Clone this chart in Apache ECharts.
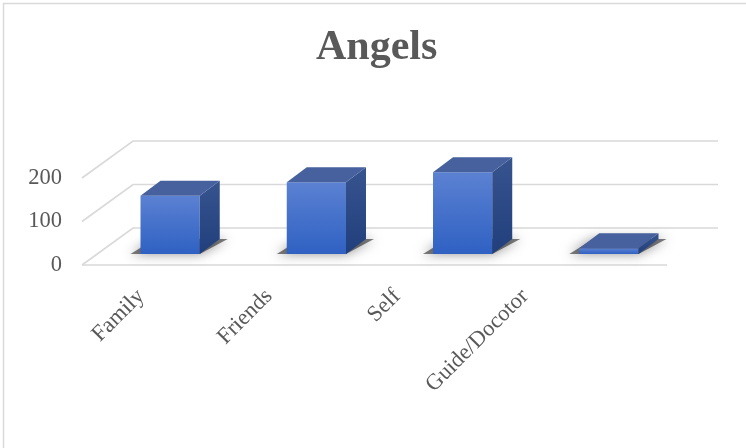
<!DOCTYPE html>
<html>
<head>
<meta charset="utf-8">
<script src="https://cdn.jsdelivr.net/npm/echarts@6/dist/echarts.min.js"></script>
<style>
  html, body { margin: 0; padding: 0; background: #fff; }
  #chart { width: 746px; height: 448px; }
</style>
</head>
<body>
<div id="chart"></div>
<script>
// Chart content
const titleText = 'Angels';
const categories = ['Family', 'Friends', 'Self', 'Guide/Docotor'];
const counts = [134, 165, 188, 13];
const yTicks = [0, 100, 200];

const SERIF = '"Liberation Serif", "Times New Roman", serif';
const GRID_COLOR = '#d9d9d9';
const TEXT_COLOR = '#595959';

// Oblique projection offsets (pixels)
const WALL_DX = 51, WALL_DY = -37;   // floor depth / side wall
const FACE_DX = 15, FACE_DY = -11;   // bar front face set back into the floor
const BAR_DX = 20, BAR_DY = -15;     // bar depth

// Side wall + back wall gridlines and the floor's front edge
function renderWalls(params, api) {
  const cs = params.coordSys;
  const left = cs.x, right = cs.x + cs.width;
  const children = [];
  yTicks.forEach(function (v, k) {
    const y = api.coord([0, v])[1];
    children.push({
      type: 'polyline',
      shape: { points: [[left, y], [left + WALL_DX, y + WALL_DY], [right + WALL_DX, y + WALL_DY]] },
      style: { stroke: GRID_COLOR, lineWidth: 1.6, fill: null }
    });
    if (k === 0) {
      children.push({
        type: 'line',
        shape: { x1: left, y1: y, x2: right, y2: y },
        style: { stroke: GRID_COLOR, lineWidth: 1.6 }
      });
    }
  });
  return { type: 'group', children: children };
}

// One 3D column: floor shadow, front face, top face, side face
function renderColumn(params, api) {
  const i = api.value(0), v = api.value(1);
  const base = api.coord([i, 0]);
  const top = api.coord([i, v]);
  const bw = api.size([1, 0])[0] * 0.405;
  const x0 = base[0] - bw / 2 + FACE_DX, x1 = x0 + bw;
  const yb = base[1] + FACE_DY, yt = top[1] + FACE_DY;

  const shadow = {
    type: 'polygon',
    shape: { points: [
      [x0 - 10, yb], [x1, yb],
      [x1 + BAR_DX + 8, yb + BAR_DY], [x0 + BAR_DX - 6, yb + BAR_DY]
    ] },
    style: { fill: 'rgba(0,0,0,0.5)', shadowBlur: 12, shadowColor: 'rgba(0,0,0,0.85)' }
  };
  const front = {
    type: 'rect',
    shape: { x: x0, y: yt, width: bw, height: yb - yt },
    style: { fill: { type: 'linear', x: 0, y: 0, x2: 0, y2: 1, colorStops: [
      { offset: 0, color: '#5b81d2' }, { offset: 1, color: '#2f61c3' }] } }
  };
  const topFace = {
    type: 'polygon',
    shape: { points: [[x0, yt], [x1, yt], [x1 + BAR_DX, yt + BAR_DY], [x0 + BAR_DX, yt + BAR_DY]] },
    style: { fill: '#46619d' }
  };
  const side = {
    type: 'polygon',
    shape: { points: [[x1, yt], [x1 + BAR_DX, yt + BAR_DY], [x1 + BAR_DX, yb + BAR_DY], [x1, yb]] },
    style: { fill: { type: 'linear', x: 0, y: 0, x2: 0, y2: 1, colorStops: [
      { offset: 0, color: '#37548f' }, { offset: 1, color: '#213f7c' }] } }
  };
  return { type: 'group', children: [shadow, front, side, topFace] };
}

const chart = echarts.init(document.getElementById('chart'), null, { renderer: 'canvas' });

chart.setOption({
  backgroundColor: '#ffffff',
  animation: false,
  title: {
    text: titleText,
    left: 316,
    top: 27,
    padding: 0,
    textStyle: { fontFamily: SERIF, fontSize: 42, fontWeight: 'bold', color: TEXT_COLOR }
  },
  graphic: [{
    type: 'rect',
    shape: { x: 3.5, y: 3.5, width: 800, height: 500 },
    style: { fill: null, stroke: GRID_COLOR, lineWidth: 1.5 },
    silent: true
  }],
  grid: [
    // plot plane (front of the floor)
    { left: 82, top: 178, width: 585, height: 87 },
    // category label band (labels are set on a slightly narrower track)
    { left: 77, top: 200, width: 512, height: 67 }
  ],
  xAxis: [
    {
      type: 'category',
      gridIndex: 0,
      data: categories,
      axisLine: { show: false },
      axisTick: { show: false },
      splitLine: { show: false },
      axisLabel: { show: false }
    },
    {
      type: 'category',
      gridIndex: 1,
      data: categories,
      axisLine: { show: false },
      axisTick: { show: false },
      splitLine: { show: false },
      axisLabel: {
        rotate: 45,
        margin: 26,
        interval: 0,
        fontFamily: SERIF,
        fontSize: 22.5,
        color: TEXT_COLOR
      }
    }
  ],
  yAxis: [
    {
      type: 'value',
      gridIndex: 0,
      min: 0,
      max: 200,
      interval: 100,
      axisLine: { show: false },
      axisTick: { show: false },
      splitLine: { show: false },
      axisLabel: { margin: 20, fontFamily: SERIF, fontSize: 22.5, color: TEXT_COLOR }
    },
    {
      type: 'value',
      gridIndex: 1,
      show: false
    }
  ],
  series: [
    {
      type: 'custom',
      name: 'walls',
      xAxisIndex: 0,
      yAxisIndex: 0,
      renderItem: renderWalls,
      data: [[0, 0]],
      z: 1,
      silent: true
    },
    {
      type: 'custom',
      name: titleText,
      xAxisIndex: 0,
      yAxisIndex: 0,
      renderItem: renderColumn,
      data: categories.map(function (c, i) { return [i, counts[i]]; }),
      encode: { x: 0, y: 1 },
      z: 2
    }
  ]
});
</script>
</body>
</html>
